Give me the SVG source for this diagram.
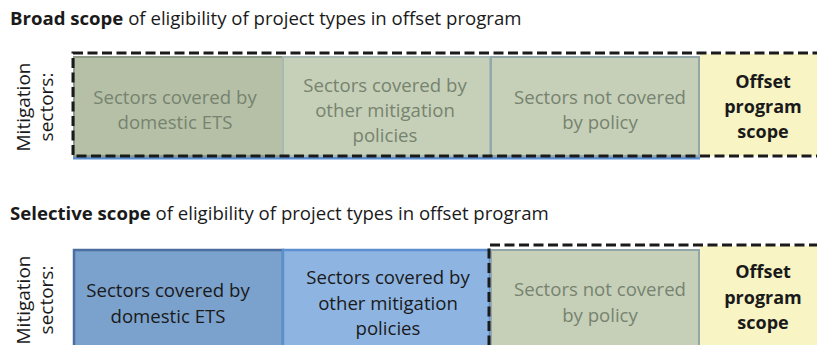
<svg xmlns="http://www.w3.org/2000/svg" width="817" height="345" viewBox="0 0 817 345">
<style>
text{font-family:"Open Sans","Noto Sans",sans-serif;}
.title{font-size:18.6px;fill:#1a1a1a;}
.lbl{font-size:18.6px;text-anchor:middle;}
.faded{fill:#77836f;}
.dark{fill:#1a1a1a;}
.off{font-size:18px;font-weight:bold;text-anchor:middle;fill:#1a1a1a;}
.side{font-size:19px;fill:#1a1a1a;text-anchor:middle;}
.dash{fill:none;stroke:#1a1a1a;stroke-width:3;stroke-dasharray:10 4.5;}
</style>
<rect width="817" height="345" fill="#ffffff"/>

<text class="title" x="10" y="25"><tspan font-weight="bold">Broad scope</tspan> of eligibility of project types in offset program</text>
<text class="title" x="10" y="220"><tspan font-weight="bold">Selective scope</tspan> of eligibility of project types in offset program</text>

<g id="side-top">
<text class="side" transform="translate(30,107) rotate(-90)">Mitigation</text>
<text class="side" transform="translate(53,107) rotate(-90)">sectors:</text>
</g>
<g id="side-bottom">
<text class="side" transform="translate(30,300) rotate(-90)">Mitigation</text>
<text class="side" transform="translate(53,300) rotate(-90)">sectors:</text>
</g>

<!-- Broad scope -->
<g id="broad-offset">
<rect x="700" y="54" width="117" height="102" fill="#f8f4c4"/>
<text class="off" x="763" y="88">Offset</text>
<text class="off" x="763" y="113">program</text>
<text class="off" x="763" y="138">scope</text>
</g>
<line x1="73" y1="158" x2="700" y2="158" stroke="#5b8fd0" stroke-width="3"/>
<g id="broad-ets">
<rect x="74" y="57" width="209" height="99" fill="#b5c0a7" stroke="#8d9b88" stroke-width="2"/>
<text class="lbl faded" x="175" y="104">Sectors covered by</text>
<text class="lbl faded" x="175" y="129">domestic ETS</text>
</g>
<g id="broad-other">
<rect x="283" y="57" width="207" height="99" fill="#c6d0b8" stroke="#a9b9b3" stroke-width="2"/>
<text class="lbl faded" x="385" y="92">Sectors covered by</text>
<text class="lbl faded" x="385" y="117">other mitigation</text>
<text class="lbl faded" x="385" y="142">policies</text>
</g>
<g id="broad-notcovered">
<rect x="491" y="57" width="208" height="99" fill="#c6d0b9" stroke="#93a6aa" stroke-width="2"/>
<text class="lbl faded" x="600" y="104">Sectors not covered</text>
<text class="lbl faded" x="600" y="129">by policy</text>
</g>
<g id="broad-scope-outline">
<rect class="dash" x="73" y="53" width="760" height="103"/>
</g>

<!-- Selective scope -->
<g id="sel-offset">
<rect x="700" y="246" width="117" height="105" fill="#f8f4c4"/>
<text class="off" x="763" y="278">Offset</text>
<text class="off" x="763" y="304">program</text>
<text class="off" x="763" y="329">scope</text>
</g>
<g id="sel-ets">
<rect x="74" y="250" width="209" height="100" fill="#7ba1cd" stroke="#4a6e9d" stroke-width="2.5"/>
<text class="lbl dark" x="168" y="297">Sectors covered by</text>
<text class="lbl dark" x="168" y="323">domestic ETS</text>
</g>
<g id="sel-other">
<rect x="283" y="250" width="207" height="100" fill="#8eb4e2" stroke="#5b8fd0" stroke-width="2.5"/>
<text class="lbl dark" x="388" y="284">Sectors covered by</text>
<text class="lbl dark" x="388" y="310">other mitigation</text>
<text class="lbl dark" x="388" y="335">policies</text>
</g>
<g id="sel-notcovered">
<rect x="491" y="250" width="208" height="100" fill="#c6d0b9" stroke="#93a6aa" stroke-width="2"/>
<text class="lbl faded" x="600" y="296">Sectors not covered</text>
<text class="lbl faded" x="600" y="322">by policy</text>
</g>
<g id="sel-scope-outline">
<path class="dash" d="M489,360 V245 H820"/>
</g>
</svg>
